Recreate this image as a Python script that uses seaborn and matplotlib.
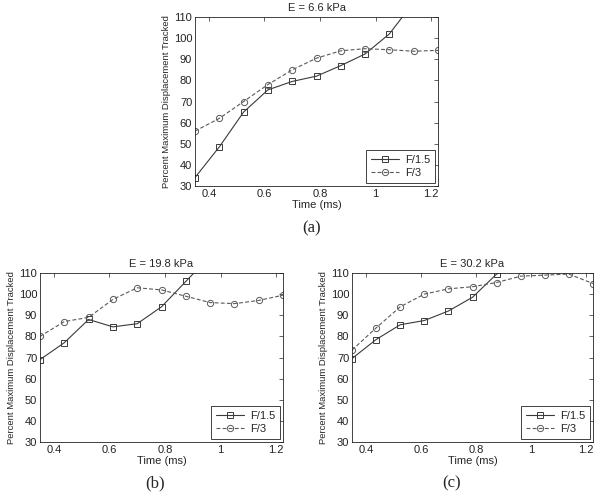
import numpy as np
import pandas as pd
import matplotlib
matplotlib.use("Agg")
import matplotlib.pyplot as plt
import seaborn as sns

# time points (ms)
time_ms = [0.35, 0.4375, 0.525, 0.6125, 0.70, 0.7875, 0.875, 0.9625, 1.05, 1.1375, 1.225]

# panel (a) E = 6.6 kPa
a_f15 = [34.0, 48.5, 65.0, 75.5, 79.5, 82.0, 87.0, 92.5, 102.0, 117.0, 124.0]
a_f3 = [56.0, 62.0, 70.0, 78.0, 85.0, 90.5, 94.0, 95.0, 94.5, 93.8, 94.2]

# panel (b) E = 19.8 kPa
b_f15 = [69.0, 77.0, 88.0, 84.5, 86.0, 94.0, 106.0, 118.0, 125.0, 130.0, 134.0]
b_f3 = [80.0, 87.0, 89.0, 97.5, 103.0, 102.0, 99.0, 96.0, 95.5, 97.0, 99.5]

# panel (c) E = 30.2 kPa
c_f15 = [69.5, 78.5, 85.5, 87.5, 92.0, 98.5, 109.5, 115.0, 118.0, 120.0, 122.0]
c_f3 = [73.5, 84.0, 94.0, 100.0, 102.5, 103.5, 105.5, 108.5, 109.0, 109.5, 105.0]

titles = ["E = 6.6 kPa", "E = 19.8 kPa", "E = 30.2 kPa"]
captions = ["(a)", "(b)", "(c)"]
series_names = ["F/1.5", "F/3"]

sns.set_style("white")
plt.rcParams['font.family'] = ['Liberation Sans', 'DejaVu Sans']

fig = plt.figure(figsize=(6.0, 4.93), dpi=100)
W, H = 600, 493

def px_axes(left, top, right, bottom):
    return fig.add_axes([left / W, 1 - bottom / H, (right - left) / W, (bottom - top) / H])

axes = [
    px_axes(195, 17, 438, 186),
    px_axes(40, 273, 283, 442),
    px_axes(352, 273, 593, 442),
]
panel_data = [(a_f15, a_f3), (b_f15, b_f3), (c_f15, c_f3)]
caption_pos = [(312, 228), (155, 483), (452, 483)]

styles = {
    "F/1.5": dict(marker="s", color="#3a3a3a"),
    "F/3": dict(marker="o", color="#5a5a5a"),
}

for ax, (f15, f3), title, cap, cpos in zip(axes, panel_data, titles, captions, caption_pos):
    df = pd.DataFrame({
        "Time": time_ms * 2,
        "Percent": f15 + f3,
        "Focus": ["F/1.5"] * len(f15) + ["F/3"] * len(f3),
    })
    for name in series_names:
        st = styles[name]
        sub = df[df["Focus"] == name]
        sns.lineplot(data=sub, x="Time", y="Percent", ax=ax, label=name,
                     color=st["color"], lw=0.8, marker=st["marker"],
                     markersize=4.5, markerfacecolor="none",
                     markeredgecolor=st["color"], markeredgewidth=0.7)
    for line, name in zip(ax.lines, series_names):
        if name == "F/3":
            line.set_dashes((3.5, 2))
        line.set_markerfacecolor("none")
        line.set_markeredgecolor(styles[name]["color"])

    ax.set_xlim(0.35, 1.225)
    ax.set_ylim(30, 110)
    ax.set_xticks([0.4, 0.6, 0.8, 1.0, 1.2])
    ax.set_xticklabels(["0.4", "0.6", "0.8", "1", "1.2"])
    ax.set_yticks(np.arange(30, 111, 10))
    ax.tick_params(direction="in", length=3, width=0.5, labelsize=8,
                   top=True, right=True, pad=2, colors="#222222")
    for sp in ax.spines.values():
        sp.set_linewidth(0.6)
        sp.set_color("#222222")
    ax.set_title(title, fontsize=8, pad=4)
    ax.set_xlabel("Time (ms)", fontsize=8, labelpad=1)
    ax.set_ylabel("Percent Maximum Displacement Tracked", fontsize=6.8, labelpad=2)
    leg = ax.legend(loc="lower right", fontsize=8, fancybox=False, framealpha=1,
                    edgecolor="#222222", borderpad=0.4, handlelength=2.6,
                    handletextpad=0.5, labelspacing=0.3, borderaxespad=0.3)
    leg.get_frame().set_linewidth(0.6)
    fig.text(cpos[0] / W, 1 - cpos[1] / H, cap, ha="center", va="center",
             fontsize=12, family=["Liberation Serif", "DejaVu Serif"])

fig.savefig("out.png", dpi=100)
